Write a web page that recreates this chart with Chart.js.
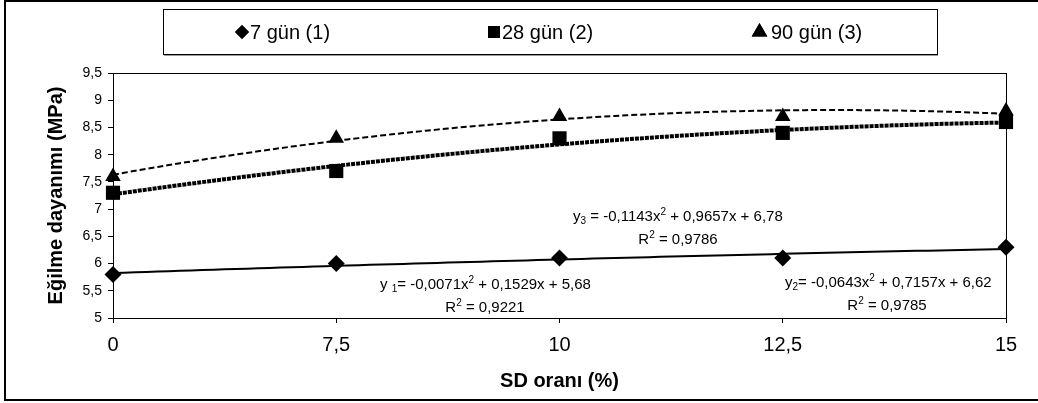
<!DOCTYPE html>
<html>
<head>
<meta charset="utf-8">
<script src="https://cdn.jsdelivr.net/npm/chart.js@4.4.1/dist/chart.umd.min.js"></script>
<style>
  html, body { margin: 0; padding: 0; background: #fff; }
  #wrap { position: relative; width: 1038px; height: 403px; }
</style>
</head>
<body>
<div id="wrap"><canvas id="chart" width="1038" height="403"></canvas></div>
<script>
// SD oranı categories (plotted at positions 1..5, as the trend equations use)
const xLabels = ["0", "7,5", "10", "12,5", "15"];
const xPos = [1, 2, 3, 4, 5];

// Eğilme dayanımı (MPa)
const gun7 = [5.8, 6.0, 6.1, 6.1, 6.3];
const gun28 = [7.3, 7.7, 8.3, 8.4, 8.6];
const gun90 = [7.6, 8.3, 8.7, 8.7, 8.8];

// polynomial trend coefficients [a, b, c] for a*x^2 + b*x + c
const trend7 = [-0.0071, 0.1529, 5.68];
const trend28 = [-0.0643, 0.7157, 6.62];
const trend90 = [-0.1143, 0.9657, 6.78];
const r2Values = ["0,9221", "0,9785", "0,9786"];

const FONT = "'Liberation Sans', Arial, sans-serif";

const toPoints = (vals) => vals.map((v, i) => ({ x: xPos[i], y: v }));

function trendCurve(c) {
  const pts = [];
  for (let i = 0; i <= 80; i++) {
    const x = 1 + i * 0.05;
    pts.push({ x: x, y: c[0] * x * x + c[1] * x + c[2] });
  }
  return pts;
}

const comma = (v) => String(v).replace(".", ",");
const eqHead = (c) => comma(c[0]) + "x";
const eqRest = (c) => " + " + comma(c[1]) + "x + " + comma(c[2]);

// text with sub/superscript pieces
function drawRich(ctx, parts, x, y, align) {
  const big = "15px " + FONT, small = "10px " + FONT;
  let w = 0;
  parts.forEach(p => {
    ctx.font = p[1] === "n" ? big : small;
    w += ctx.measureText(p[0]).width;
  });
  let cx = align === "center" ? x - w / 2 : x;
  ctx.textAlign = "left";
  ctx.textBaseline = "middle";
  parts.forEach(p => {
    ctx.font = p[1] === "n" ? big : small;
    const dy = p[1] === "sub" ? 4 : p[1] === "sup" ? -5 : 0;
    ctx.fillText(p[0], cx, y + dy);
    cx += ctx.measureText(p[0]).width;
  });
}

const extras = {
  id: "extras",
  afterDraw(chart) {
    const ctx = chart.ctx;
    const a = chart.chartArea;
    ctx.save();

    // frame round the plot area
    ctx.strokeStyle = "#000";
    ctx.lineWidth = 1;
    ctx.strokeRect(a.left + 0.5, a.top + 0.5, a.right - a.left, a.bottom - a.top);

    // outer frame
    ctx.lineWidth = 2;
    ctx.beginPath();
    ctx.moveTo(1038, 1); ctx.lineTo(5, 1); ctx.lineTo(5, 400); ctx.lineTo(1038, 400);
    ctx.stroke();

    // legend box
    ctx.lineWidth = 1;
    ctx.strokeStyle = "#999";
    ctx.beginPath(); ctx.moveTo(164, 55.5); ctx.lineTo(938, 55.5); ctx.stroke();
    ctx.strokeStyle = "#000";
    ctx.strokeRect(163.5, 9.5, 774, 45);

    const items = [
      { ds: 0, mx: 242, tx: 250 },
      { ds: 1, mx: 494, tx: 502 },
      { ds: 2, mx: 759.5, tx: 771 }
    ];
    ctx.fillStyle = "#000";
    items.forEach(it => {
      const d = chart.data.datasets[it.ds];
      Chart.helpers.drawPoint(ctx, {
        pointStyle: d.pointStyle, rotation: 0, borderWidth: 0,
        radius: d.pointStyle === "triangle" ? 9 : d.pointStyle === "rect" ? 8.5 : 7
      }, it.mx, 32);
      ctx.fill();
      ctx.font = "20px " + FONT;
      ctx.textAlign = "left";
      ctx.textBaseline = "middle";
      ctx.fillText(d.label, it.tx, 33);
    });

    // trend equations
    ctx.fillStyle = "#000";
    drawRich(ctx, [["y ", "n"], ["1", "sub"], ["= " + eqHead(trend7), "n"], ["2", "sup"], [eqRest(trend7), "n"]], 380, 285, "left");
    drawRich(ctx, [["R", "n"], ["2", "sup"], [" = " + r2Values[0], "n"]], 485, 308, "center");
    drawRich(ctx, [["y", "n"], ["3", "sub"], [" = " + eqHead(trend90), "n"], ["2", "sup"], [eqRest(trend90), "n"]], 573, 217, "left");
    drawRich(ctx, [["R", "n"], ["2", "sup"], [" = " + r2Values[2], "n"]], 678, 240, "center");
    drawRich(ctx, [["y", "n"], ["2", "sub"], ["= " + eqHead(trend28), "n"], ["2", "sup"], [eqRest(trend28), "n"]], 785, 283, "left");
    drawRich(ctx, [["R", "n"], ["2", "sup"], [" = " + r2Values[1], "n"]], 887, 306, "center");

    ctx.restore();
  }
};

const marker = (label, data, style, r) => ({
  label: label,
  data: toPoints(data),
  showLine: false,
  clip: false,
  pointStyle: style,
  pointRadius: r,
  pointBackgroundColor: "#000",
  pointBorderColor: "#000",
  pointBorderWidth: 0
});

const trendLine = (c, width, dash) => ({
  label: "",
  data: trendCurve(c),
  showLine: true,
  clip: false,
  pointRadius: 0,
  borderColor: "#000",
  borderWidth: width,
  borderDash: dash,
  borderCapStyle: "butt",
  tension: 0,
  fill: false
});

new Chart(document.getElementById("chart").getContext("2d"), {
  type: "scatter",
  data: {
    datasets: [
      marker("7 gün (1)", gun7, "rectRot", 8.5),
      marker("28 gün (2)", gun28, "rect", 10),
      marker("90 gün (3)", gun90, "triangle", 9),
      trendLine(trend7, 2, []),
      trendLine(trend28, 4, [4, 1]),
      trendLine(trend90, 2, [6, 3])
    ]
  },
  options: {
    responsive: false,
    animation: false,
    layout: { padding: { top: 73, right: 32, left: 0, bottom: 0 } },
    plugins: {
      legend: { display: false },
      tooltip: { enabled: false }
    },
    scales: {
      x: {
        type: "linear",
        min: 1,
        max: 5,
        afterFit: (s) => { s.height = 85; },
        afterBuildTicks: (s) => { s.ticks = xPos.map(v => ({ value: v })); },
        ticks: {
          color: "#000",
          font: { family: FONT, size: 20 },
          padding: 10,
          maxRotation: 0,
          callback: (v) => xLabels[xPos.indexOf(v)]
        },
        grid: { drawOnChartArea: false, tickLength: 5, color: "#000", lineWidth: 1 },
        border: { color: "#000", width: 1 },
        title: {
          display: true,
          text: "SD oranı (%)",
          color: "#000",
          font: { family: FONT, size: 20, weight: "bold" },
          padding: { top: 0, bottom: 10 }
        }
      },
      y: {
        min: 5,
        max: 9.5,
        afterFit: (s) => { s.width = 113; },
        ticks: {
          stepSize: 0.5,
          color: "#000",
          font: { family: FONT, size: 14 },
          padding: 6,
          callback: (v) => comma(v)
        },
        grid: { drawOnChartArea: false, tickLength: 5, color: "#000", lineWidth: 1 },
        border: { color: "#000", width: 1 },
        title: {
          display: true,
          text: "Eğilme dayanımı (MPa)",
          color: "#000",
          font: { family: FONT, size: 20, weight: "bold" },
          padding: { top: 44, bottom: 0 }
        }
      }
    }
  },
  plugins: [extras]
});
</script>
</body>
</html>
